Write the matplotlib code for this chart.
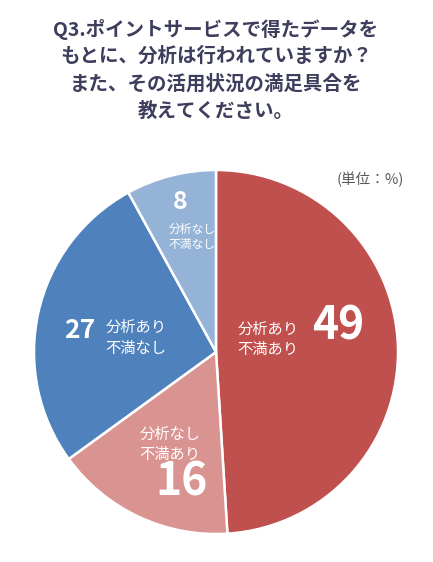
import matplotlib
matplotlib.use("Agg")
import matplotlib.pyplot as plt

plt.rcParams["font.family"] = ["Noto Sans CJK JP", "DejaVu Sans"]

W, H = 433, 562

TITLE_LINES = ["Q3.ポイントサービスで得たデータを",
               "もとに、分析は行われていますか？",
               "また、その活用状況の満足具合を",
               "教えてください。"]
UNIT = "(単位：%)"

values = [49, 16, 27, 8]
labels = ["分析あり\n不満あり", "分析なし\n不満あり", "分析あり\n不満なし", "分析なし\n不満なし"]
colors = ["#c0504d", "#d99492", "#4f81bd", "#95b3d7"]

# label layout in pixel coords (x, y from top): number pos, number size, text pos, text size
num_pos = [(338, 326), (182, 483), (80, 330), (180, 202)]
num_size = [32, 32, 19, 18]
txt_pos = [(268, 339), (170, 444), (136, 338), (192, 237)]
txt_size = [11, 11, 11, 8.5]
txt_gap = [1.25, 1.25, 1.35, 1.2]

TITLE_C = "#3d3d5c"

fig = plt.figure(figsize=(W / 100, H / 100), dpi=100)
fig.patch.set_facecolor("white")
ax = fig.add_axes([0, 0, 1, 1])

cx, cy, r = 216, H - 352, 182
ax.pie(values, colors=colors, startangle=90, counterclock=False,
       center=(cx, cy), radius=r, frame=True,
       wedgeprops={"edgecolor": "white", "linewidth": 1.8})
ax.set_xlim(0, W)
ax.set_ylim(0, H)
ax.set_aspect("equal")
ax.axis("off")

for i, line in enumerate(TITLE_LINES):
    ax.text(216, H - (29 + 27.3 * i), line, ha="center", va="center",
            fontsize=14, fontweight="bold", color=TITLE_C)

ax.text(404, H - 180, UNIT, ha="right", va="center", fontsize=10.5, color="#595959")

for v, lab, (nx, ny), ns, (tx, ty), ts, g in zip(values, labels, num_pos, num_size,
                                                 txt_pos, txt_size, txt_gap):
    ax.text(nx, H - ny, str(v), ha="center", va="center", fontsize=ns,
            fontweight="bold", color="white")
    ax.text(tx, H - ty, lab, ha="center", va="center", fontsize=ts,
            color="white", linespacing=g)

fig.savefig("out.png", dpi=100, facecolor="white")
